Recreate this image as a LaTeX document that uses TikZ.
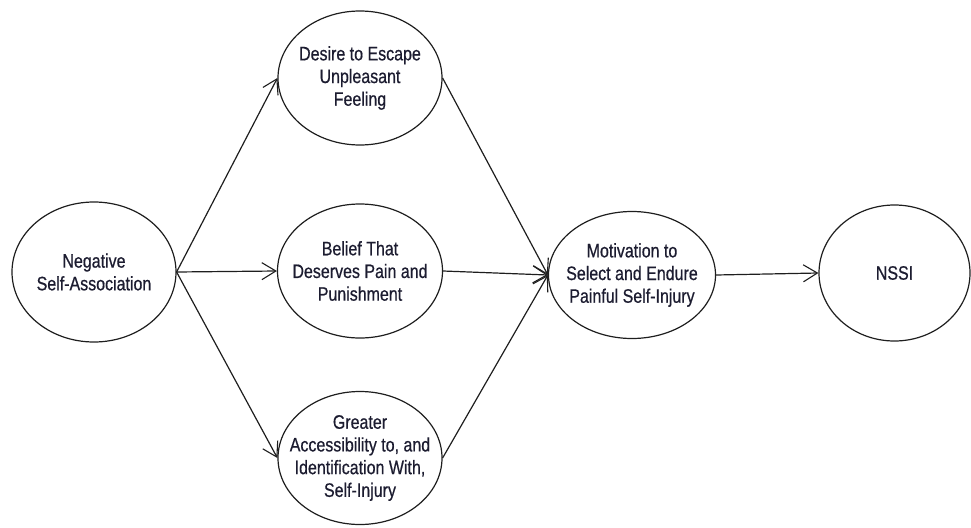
\documentclass[tikz,border=0pt]{standalone}
\usepackage{fontspec}
\setmainfont{Liberation Sans}[FakeStretch=0.82,FakeBold=0.6]
\usetikzlibrary{arrows.meta,shapes.geometric}
\definecolor{txt}{RGB}{28,28,48}
\definecolor{ln}{RGB}{30,30,30}
\begin{document}
\begin{tikzpicture}[x=1pt,y=-1pt,
  oval/.style={draw=ln,line width=1.2pt,ellipse,inner sep=0pt},
  lbl/.style={align=center,text=txt,inner sep=0pt,font=\fontsize{19.5}{22.7}\selectfont},
  link/.style={draw=ln,line width=1.2pt,-{Straight Barb[length=14pt,width=17pt,line width=1.1pt]}}]
\useasboundingbox (0,0) rectangle (971,527);
\node[oval,minimum width=164pt,minimum height=140pt] (neg) at (94,272) {};
\node[lbl] (negt) at (neg.center) {Negative\\Self-Association};
\node[oval,minimum width=164pt,minimum height=134pt] (des) at (360,78) {};
\node[lbl] (dest) at (des.center) {Desire to Escape\\Unpleasant\\Feeling};
\node[oval,minimum width=165pt,minimum height=134pt] (bel) at (360,271) {};
\node[lbl] (belt) at (bel.center) {Belief That\\Deserves Pain and\\Punishment};
\node[oval,minimum width=164pt,minimum height=133pt] (gre) at (360,458) {};
\node[lbl] (gret) at (gre.center) {Greater\\Accessibility to, and\\Identification With,\\Self-Injury};
\node[oval,minimum width=167pt,minimum height=127pt] (mot) at (632,275) {};
\node[lbl] (mott) at (mot.center) {Motivation to\\Select and Endure\\Painful Self-Injury};
\node[oval,minimum width=151pt,minimum height=136pt] (nssi) at (894.5,273) {};
\node[lbl] (nssit) at (nssi.center) {NSSI};
\draw[link] (neg.east) -- (des.west);
\draw[link] (neg.east) -- (bel.west);
\draw[link] (neg.east) -- (gre.west);
\draw[link] (des.east) -- (mot.west);
\draw[link] (bel.east) -- (mot.west);
\draw[link] (gre.east) -- (mot.west);
\draw[link] (mot.east) -- (nssi.west);
\end{tikzpicture}
\end{document}
